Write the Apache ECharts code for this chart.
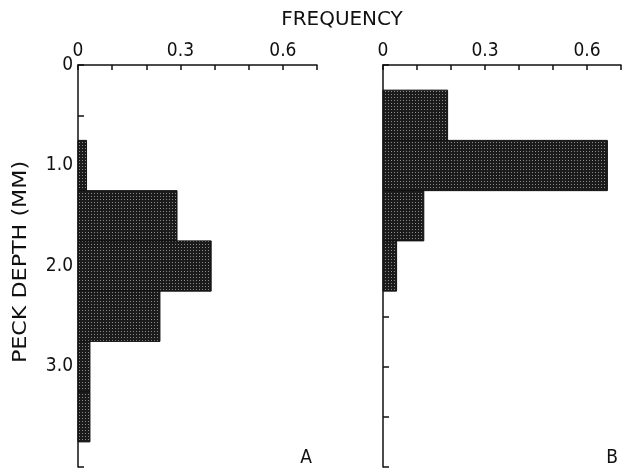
<!DOCTYPE html>
<html>
<head>
<meta charset="utf-8">
<script src="https://cdn.jsdelivr.net/npm/echarts@6/dist/echarts.min.js"></script>
<style>
html,body{margin:0;padding:0;background:#fff;}
#chart{width:624px;height:468px;}
</style>
</head>
<body>
<div id="chart"></div>
<script>
// Bin edges (peck depth, mm) and frequencies
const binStartA = [0.75, 1.25, 1.75, 2.25, 2.75, 3.25];
const binEndA   = [1.25, 1.75, 2.25, 2.75, 3.25, 3.75];
const freqA     = [0.025, 0.29, 0.39, 0.24, 0.035, 0.035];

const binStartB = [0.25, 0.75, 1.25, 1.75];
const binEndB   = [0.75, 1.25, 1.75, 2.25];
const freqB     = [0.19, 0.66, 0.12, 0.04];

const freqTickLabels  = ['0', '0.3', '0.6'];
const depthTickLabels = ['0', '1.0', '2.0', '3.0'];

const FONT = '"Liberation Sans Narrow", "DejaVu Sans Condensed", "Liberation Sans", sans-serif';

// stipple pattern
const pc = document.createElement('canvas');
pc.width = 3; pc.height = 3;
const g = pc.getContext('2d');
g.fillStyle = '#1b1b1b'; g.fillRect(0,0,3,3);
g.fillStyle = '#8a8a8a'; g.fillRect(1,1,1,1);

function rows(s, e, f){ return s.map((v,i)=>[v, e[i], f[i]]); }

function renderBin(params, api){
  const p0 = api.coord([0, api.value(0)]);
  const p1 = api.coord([api.value(2), api.value(1)]);
  return {
    type: 'rect',
    shape: {x: p0[0], y: p0[1], width: p1[0]-p0[0], height: p1[1]-p0[1]},
    style: {fill: {image: pc, repeat: 'repeat'}, stroke: '#111', lineWidth: 1}
  };
}

function xAxisDef(idx){
  return {
    gridIndex: idx, type: 'value', position: 'top', min: 0, max: 0.7, interval: 0.1,
    axisLine: {show: true, lineStyle: {color: '#111', width: 1.5}},
    axisTick: {show: true, inside: true, length: 5, lineStyle: {color: '#111', width: 1.5}},
    splitLine: {show: false},
    axisLabel: {
      show: true, margin: 4, color: '#111', fontFamily: FONT, fontSize: 19,
      showMinLabel: true, showMaxLabel: true,
      formatter: function(v){
        const k = Math.round(v*10);
        const m = {0: freqTickLabels[0], 3: freqTickLabels[1], 6: freqTickLabels[2]};
        return m[k] !== undefined ? m[k] : '';
      }
    }
  };
}
function yAxisDef(idx, labels){
  return {
    gridIndex: idx, type: 'value', inverse: true, min: 0, max: 4, interval: 0.5,
    axisLine: {show: true, lineStyle: {color: '#111', width: 1.5}},
    axisTick: {show: true, inside: true, length: 6, lineStyle: {color: '#111', width: 1.5}},
    splitLine: {show: false},
    axisLabel: {
      show: labels, margin: 5, color: '#111', fontFamily: FONT, fontSize: 19,
      showMinLabel: true, showMaxLabel: true,
      formatter: function(v){
        const k = Math.round(v*2);
        const m = {0: depthTickLabels[0], 2: depthTickLabels[1], 4: depthTickLabels[2], 6: depthTickLabels[3]};
        return m[k] !== undefined ? m[k] : '';
      }
    }
  };
}

const chart = echarts.init(document.getElementById('chart'));
chart.setOption({
  animation: false,
  backgroundColor: '#fff',
  grid: [
    {left: 78, top: 65, width: 239, height: 402},
    {left: 383, top: 65, width: 239, height: 402}
  ],
  xAxis: [xAxisDef(0), xAxisDef(1)],
  yAxis: [yAxisDef(0, true), yAxisDef(1, false)],
  series: [
    {type: 'custom', xAxisIndex: 0, yAxisIndex: 0, data: rows(binStartA, binEndA, freqA),
     encode: {x: 2, y: [0, 1]}, renderItem: renderBin},
    {type: 'custom', xAxisIndex: 1, yAxisIndex: 1, data: rows(binStartB, binEndB, freqB),
     encode: {x: 2, y: [0, 1]}, renderItem: renderBin}
  ],
  graphic: [
    {type: 'text', x: 342, y: 20, scaleX: 1.11, style: {text: 'FREQUENCY', fontFamily: FONT, fontSize: 20, fill: '#111', align: 'center', verticalAlign: 'middle'}},
    {type: 'text', x: 21, y: 262, rotation: Math.PI/2, scaleX: 1.3, style: {text: 'PECK DEPTH (MM)', fontFamily: FONT, fontSize: 19, fill: '#111', align: 'center', verticalAlign: 'middle'}},
    {type: 'text', x: 306, y: 458, style: {text: 'A', fontFamily: FONT, fontSize: 19, fill: '#111', align: 'center', verticalAlign: 'middle'}},
    {type: 'text', x: 612, y: 458, style: {text: 'B', fontFamily: FONT, fontSize: 19, fill: '#111', align: 'center', verticalAlign: 'middle'}}
  ]
});
</script>
</body>
</html>
